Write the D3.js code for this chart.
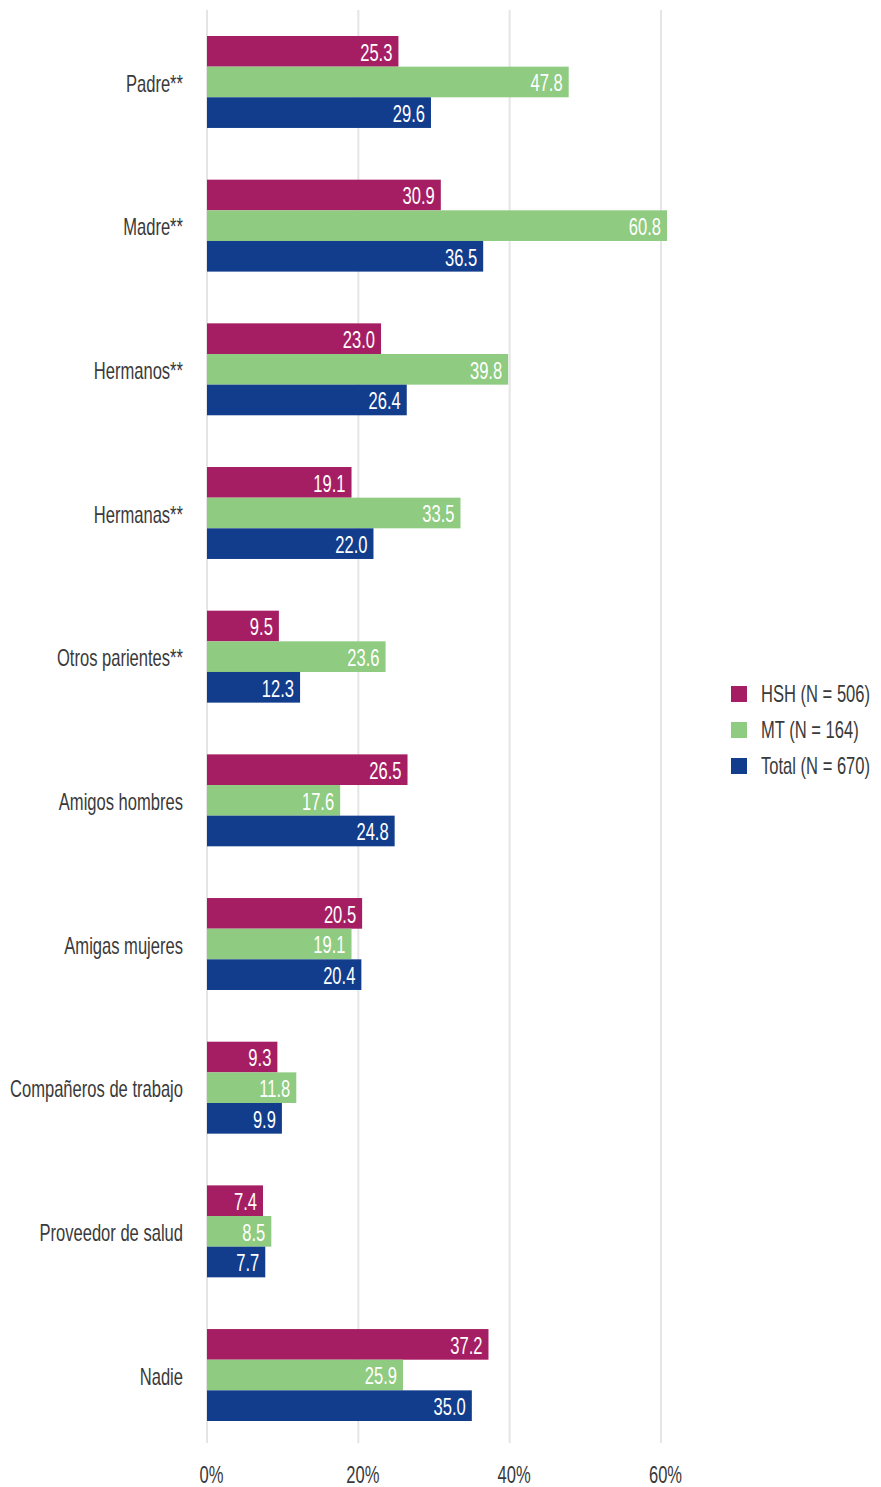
<!DOCTYPE html>
<html>
<head>
<meta charset="utf-8">
<script src="https://cdn.jsdelivr.net/npm/d3@7"></script>
<style>
  html, body { margin: 0; padding: 0; background: #ffffff; }
  svg { display: block; }
  text { font-family: "Liberation Sans", Arial, sans-serif; }
</style>
</head>
<body>
<svg id="chart" width="881" height="1487"></svg>
<script>
// Categories (people the respondent told) and percentages per group
const categories = [
  "Padre**", "Madre**", "Hermanos**", "Hermanas**", "Otros parientes**",
  "Amigos hombres", "Amigas mujeres", "Compañeros de trabajo", "Proveedor de salud", "Nadie"
];
const seriesNames = ["HSH (N = 506)", "MT (N = 164)", "Total (N = 670)"];
const hshValues   = [25.3, 30.9, 23.0, 19.1, 9.5, 26.5, 20.5, 9.3, 7.4, 37.2];
const mtValues    = [47.8, 60.8, 39.8, 33.5, 23.6, 17.6, 19.1, 11.8, 8.5, 25.9];
const totalValues = [29.6, 36.5, 26.4, 22.0, 12.3, 24.8, 20.4, 9.9, 7.7, 35.0];
const xTicks = [0, 20, 40, 60];
const colors = ["#a51e63", "#8fcb80", "#123d8c"];

// Narrow lettering: regular glyphs squeezed horizontally
const SQUEEZE = 0.72;
const FONT_SIZE = 23;
function place(sel, fx, fy) {
  sel.attr("x", 0).attr("y", 0)
     .attr("font-size", FONT_SIZE)
     .attr("transform", (d, i) => `translate(${fx(d, i)},${fy(d, i)}) scale(${SQUEEZE},1)`);
}

const svg = d3.select("#chart");
const seriesValues = [hshValues, mtValues, totalValues];

const x = d3.scaleLinear().domain([0, 60]).range([207, 661]);
const y = d3.scaleBand().domain(categories).range([36, 1421]).paddingInner(0.36).paddingOuter(0);
const ySub = d3.scaleBand().domain(d3.range(seriesNames.length)).range([0, y.bandwidth()]);

// Vertical grid lines
svg.append("g").selectAll("line")
  .data(xTicks)
  .join("line")
  .attr("x1", d => x(d)).attr("x2", d => x(d))
  .attr("y1", 10).attr("y2", 1443)
  .attr("stroke", "#e5e5e5").attr("stroke-width", 2);

// Axis tick labels
const xAxis = d3.axisBottom(x).tickValues(xTicks).tickFormat(d => d + "%").tickSize(0).tickPadding(0);
const axisG = svg.append("g").attr("transform", "translate(4,0)").call(xAxis);
axisG.select(".domain").remove();
axisG.selectAll("text")
  .attr("font-family", null)
  .attr("dy", null)
  .attr("fill", "#3a3a3a");
place(axisG.selectAll("text"), () => 0, () => 1483);

// Category labels
const catText = svg.append("g").selectAll("text")
  .data(categories)
  .join("text")
  .attr("text-anchor", "end")
  .attr("dy", "0.36em")
  .attr("fill", "#3a3a3a")
  .text(d => d);
place(catText, () => 183, d => y(d) + y.bandwidth() / 2 + 1.5);

// Bars + value labels
const rows = [];
categories.forEach((c, i) => {
  seriesValues.forEach((vals, s) => rows.push({ cat: c, s, v: vals[i] }));
});

svg.append("g").selectAll("rect")
  .data(rows)
  .join("rect")
  .attr("x", x(0))
  .attr("y", d => y(d.cat) + ySub(d.s))
  .attr("width", d => x(d.v) - x(0))
  .attr("height", ySub.bandwidth())
  .attr("fill", d => colors[d.s]);

const valText = svg.append("g").selectAll("text")
  .data(rows)
  .join("text")
  .attr("dy", "0.36em")
  .attr("text-anchor", "end")
  .attr("fill", "#ffffff")
  .text(d => d.v.toFixed(1));
place(valText, d => x(d.v) - 6, d => y(d.cat) + ySub(d.s) + ySub.bandwidth() / 2 + 1);

// Legend
const legend = svg.append("g").attr("transform", "translate(731,686)");
const li = legend.selectAll("g").data(seriesNames).join("g")
  .attr("transform", (d, i) => `translate(0,${i * 36})`);
li.append("rect").attr("width", 16).attr("height", 16).attr("fill", (d, i) => colors[i]);
const legText = li.append("text").attr("dy", "0.36em").attr("fill", "#3a3a3a").text(d => d);
place(legText, () => 30, () => 8);
</script>
</body>
</html>
